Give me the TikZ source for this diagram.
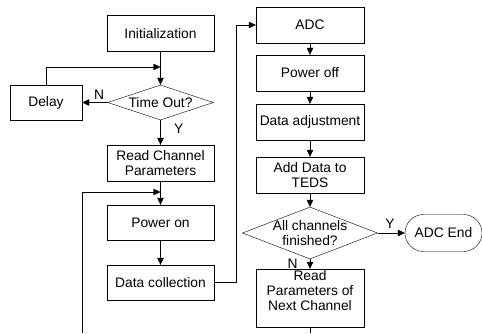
\documentclass[tikz,border=0pt]{standalone}
\usepackage{fontspec}
\setmainfont{Liberation Sans}
\usetikzlibrary{positioning, arrows.meta}
\usetikzlibrary{shapes.geometric, shapes.misc}
\tikzset{->, % every connector is directed
>={Triangle[width=6.5pt,length=7pt]}, % filled arrow heads
line width=0.8pt,
every node/.style={font=\fontsize{13.8}{15}\selectfont}, % Arial-like text
box/.style={draw, rectangle, minimum width=107pt, minimum height=36pt, align=center, inner sep=1pt}, % process step
decision/.style={draw, diamond, inner sep=0pt}, % yes/no test
terminal/.style={draw, rounded rectangle, minimum width=77pt, minimum height=37pt, inner sep=0pt}, % end of flow
}

\begin{document}
\begin{tikzpicture}[x=1pt, y=-1pt]
\useasboundingbox (0,0) rectangle (482,333);

% left column
\node[box] (init) at (160.5,33.5) {Initialization};
\node[decision, minimum width=106pt, minimum height=35pt, label={center:Time Out?}] (timeout) at (160.5,102.5) {};
\node[box, minimum width=72pt, minimum height=35pt] (delay) at (46,102.5) {Delay};
\node[box] (readch) at (160.5,163) {Read Channel\\Parameters};
\node[box, minimum height=35pt] (poweron) at (160.5,222.5) {Power on};
\node[box, minimum height=35pt] (collect) at (160.5,282.5) {Data collection};

% right column
\node[box, minimum width=108pt] (adc) at (310,25) {ADC};
\node[box, minimum width=108pt] (poweroff) at (310,73) {Power off};
\node[box, minimum width=108pt] (adjust) at (310,122) {Data adjustment};
\node[box, minimum width=108pt] (teds) at (310,175) {Add Data to\\TEDS};
\node[decision, minimum width=135pt, minimum height=52pt, label={[align=center]center:All channels\\finished?}] (alldone) at (310,233) {};
\node[box, minimum width=108pt, minimum height=54pt] (nextch) at (310,298) {Read\\Parameters of\\Next Channel\\[1pt]};
\node[terminal] (adcend) at (443.5,233) {ADC End};

\coordinate (join1) at (160.5,67);
\coordinate (join2) at (160.5,192);
\coordinate (loopstart) at (82,333);
\coordinate (riser) at (236,25);
\coordinate (tailend) at (310,333);

\draw
(init) edge (timeout)
(timeout) edge node[pos=0, above left, inner sep=3pt] {N} (delay)
(timeout) edge node[pos=0.36, right=10pt] {Y} (readch)
(readch) edge (poweron)
(poweron) edge (collect)
(adc) edge (poweroff)
(poweroff) edge (adjust)
(adjust) edge (teds)
(teds) edge (alldone)
(alldone) edge node[pos=0.45, above=1pt] {Y} (adcend)
(alldone) edge node[pos=0.45, left=9pt] {N} (nextch);

\draw (delay) |- (join1);
\draw (loopstart) |- (join2);
\draw (collect.east) -| (riser) -- (adc);
\draw[-] (nextch) -- (tailend);

\end{tikzpicture}
\end{document}
